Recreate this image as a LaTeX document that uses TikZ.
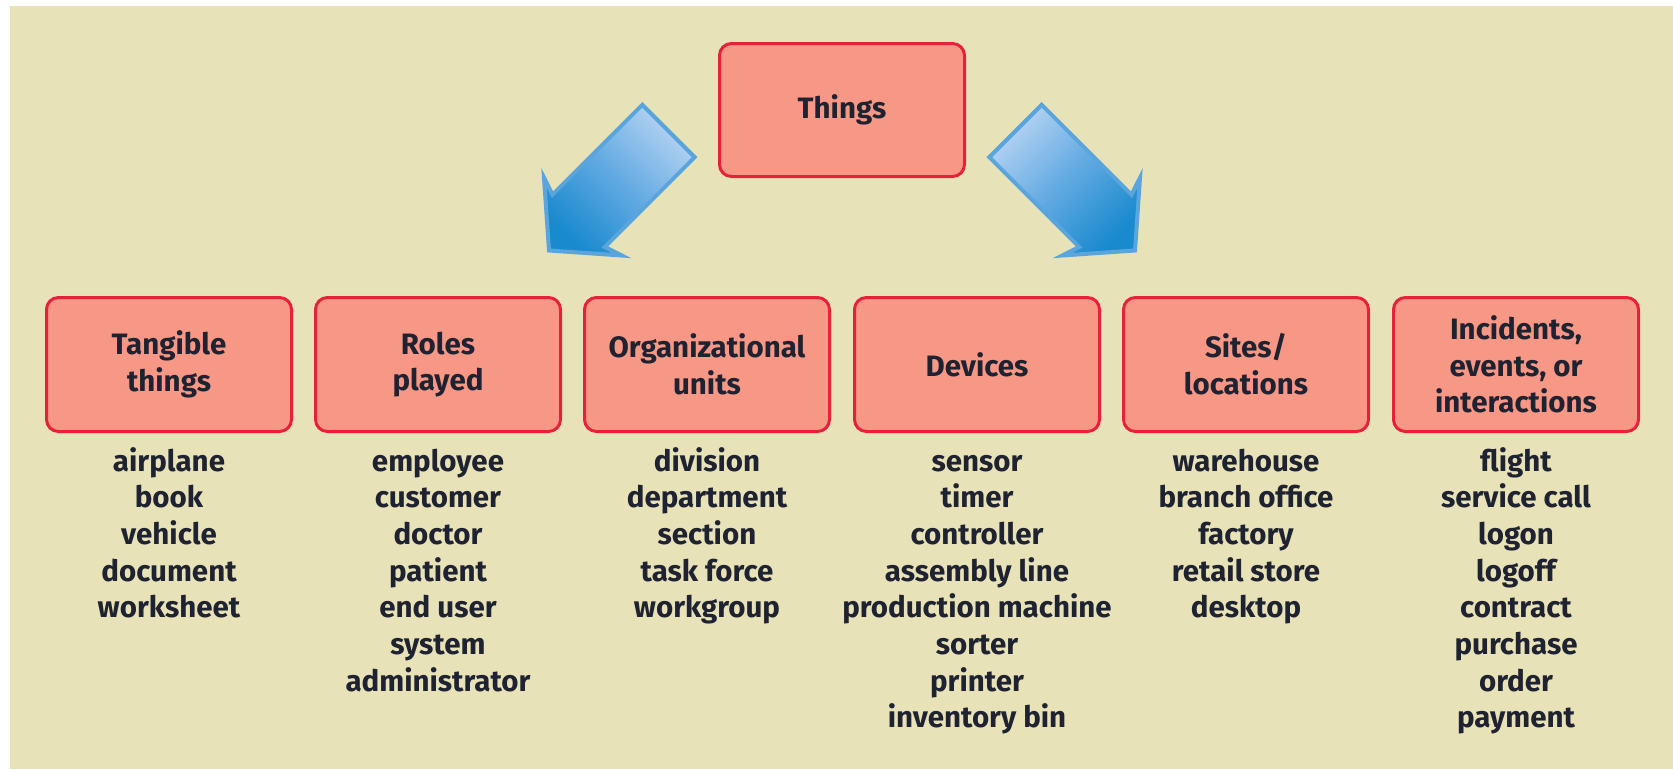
\documentclass[tikz,border=0pt]{standalone}
\usepackage{fontspec}
\setmainfont{Fira Sans}
\definecolor{bgc}{HTML}{E8E2B8}
\definecolor{boxfill}{HTML}{F79785}
\definecolor{boxline}{HTML}{E8213A}
\definecolor{ink}{HTML}{1F2230}
\definecolor{arrowline}{HTML}{5AA6DC}
\definecolor{arrowlight}{HTML}{B2D2F2}
\definecolor{arrowmid}{HTML}{62AAE2}
\definecolor{arrowdark}{HTML}{1A8ACE}
\begin{document}
\begin{tikzpicture}[x=1pt,y=-1pt,
  box/.style={draw=boxline, line width=3pt, fill=boxfill, rounded corners=12pt,
    minimum width=245pt, minimum height=134pt, align=center, text=ink,
    font=\fontsize{29.5}{36.7}\selectfont\bfseries, inner sep=0pt},
  item/.style={anchor=base, text=ink, font=\fontsize{29.5}{36.7}\selectfont\bfseries, inner sep=0pt},
  bigarrow/.style={draw=arrowline, line width=4pt, line join=miter,
    top color=arrowlight, bottom color=arrowdark, middle color=arrowmid}
]
\useasboundingbox (0,0) rectangle (1673,769);
\fill[white] (0,0) rectangle (1673,769);
\fill[bgc] (10,6) rectangle (1673,769);

% top box
\node[box, minimum height=133pt] (things) at (842,110) {Things};

% block arrows
\path[bigarrow, shading angle=-45]
  (642.3,104.8) -- (552.5,194.6) -- (544.0,177.7) -- (549.0,250.5)
  -- (621.8,255.5) -- (604.9,247.0) -- (694.7,157.2) -- cycle;
\path[bigarrow, shading angle=45]
  (1041.7,104.8) -- (1131.5,194.6) -- (1140.0,177.7) -- (1135.0,250.5)
  -- (1062.2,255.5) -- (1079.1,247.0) -- (989.3,157.2) -- cycle;

% category boxes
\node[box] (tang) at (169,364.5) {Tangible\\things};
\node[box] (roles) at (438,364.5) {Roles\\played};
\node[box] (org) at (707,364.5) {Organizational\\units};
\node[box] (dev) at (977,364.5) {Devices};
\node[box] (sites) at (1246,364.5) {Sites/\\locations};
\node[box] (inc) at (1516,364.5) {Incidents,\\events, or\\interactions};

% lists
\foreach \t [count=\i from 0] in {airplane,book,vehicle,document,worksheet}
  \node[item] (ta\i) at (169,{471+36.7*\i}) {\t};
\foreach \t [count=\i from 0] in {employee,customer,doctor,patient,end user,system,administrator}
  \node[item] (ro\i) at (438,{471+36.7*\i}) {\t};
\foreach \t [count=\i from 0] in {division,department,section,task force,workgroup}
  \node[item] (or\i) at (707,{471+36.7*\i}) {\t};
\foreach \t [count=\i from 0] in {sensor,timer,controller,assembly line,production machine,sorter,printer,inventory bin}
  \node[item] (de\i) at (977,{471+36.7*\i}) {\t};
\foreach \t [count=\i from 0] in {warehouse,branch office,factory,retail store,desktop}
  \node[item] (si\i) at (1246,{471+36.7*\i}) {\t};
\foreach \t [count=\i from 0] in {flight,service call,logon,logoff,contract,purchase,order,payment}
  \node[item] (in\i) at (1516,{471+36.7*\i}) {\t};
\end{tikzpicture}
\end{document}
